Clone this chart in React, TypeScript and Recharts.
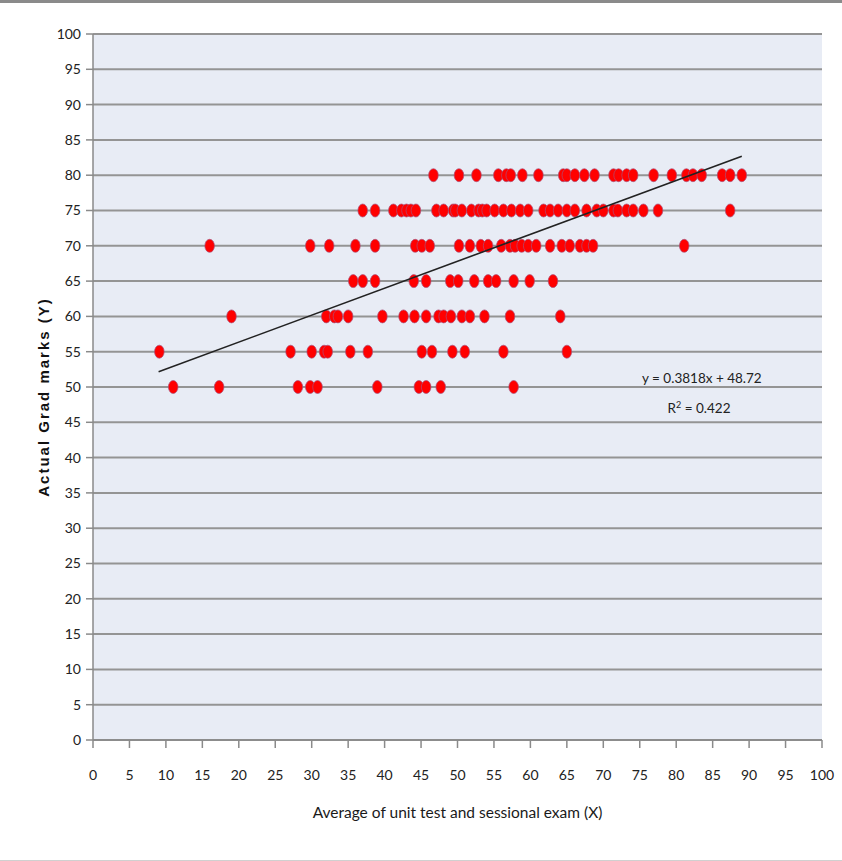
import { ScatterChart, Scatter, XAxis, YAxis, CartesianGrid, Label } from 'recharts';

// Actual grade vs. average of unit test and sessional exam

const TICKS = [0, 5, 10, 15, 20, 25, 30, 35, 40, 45, 50, 55, 60, 65, 70, 75, 80, 85, 90, 95, 100];

const GRADES = [80, 75, 70, 65, 60, 55, 50];

const AVG_80 = [46.7, 50.2, 52.6, 55.6, 56.7, 57.3, 58.9, 61.1, 64.5, 65.0, 66.1, 67.4, 68.8, 71.4, 72.1, 73.2, 74.1, 76.9, 79.4, 81.4, 82.3, 83.5, 86.3, 87.4, 89.0];
const AVG_75 = [37.0, 38.7, 41.2, 42.3, 43.0, 43.6, 44.3, 47.1, 48.1, 49.4, 49.7, 50.6, 51.9, 52.9, 53.4, 54.0, 55.1, 56.3, 57.4, 58.6, 59.7, 61.8, 62.7, 63.8, 65.0, 66.1, 67.7, 69.1, 70.0, 71.4, 72.0, 73.2, 74.1, 75.5, 77.5, 87.4];
const AVG_70 = [16.0, 29.8, 32.4, 36.0, 38.7, 44.2, 45.1, 46.2, 50.2, 51.7, 53.2, 54.2, 56.0, 57.2, 57.9, 58.8, 59.7, 60.8, 62.7, 64.3, 65.4, 66.8, 67.7, 68.6, 81.1];
const AVG_65 = [35.7, 37.0, 38.7, 44.0, 45.7, 49.0, 50.1, 52.3, 54.2, 55.3, 57.7, 59.9, 63.1];
const AVG_60 = [19.0, 32.0, 33.1, 33.6, 35.0, 39.7, 42.6, 44.1, 45.7, 47.4, 48.1, 49.1, 50.6, 51.7, 53.7, 57.2, 64.1];
const AVG_55 = [9.1, 27.1, 30.0, 31.7, 32.2, 35.3, 37.7, 45.1, 46.5, 49.3, 51.0, 56.3, 65.0];
const AVG_50 = [11.0, 17.3, 28.1, 29.8, 30.8, 39.0, 44.7, 45.7, 47.7, 57.7];

// linear trendline shown on the chart
const SLOPE = 0.3818;
const INTERCEPT = 48.72;
const TREND_X = [9, 89];

const AVERAGES = [AVG_80, AVG_75, AVG_70, AVG_65, AVG_60, AVG_55, AVG_50];

const points = GRADES.flatMap((g, i) => AVERAGES[i].map((x) => ({ x, y: g })));
const trend = TREND_X.map((x) => ({ x, y: SLOPE * x + INTERCEPT }));

const FONT = 'Lato, "Open Sans", sans-serif';

const Dot = (props: any) => (
  <ellipse cx={props.cx} cy={props.cy} rx={4.8} ry={6.5} fill="#ff0000" stroke="#a8507a" strokeWidth={0.7} />
);

// rotated y title, a bit below the middle of the axis like the original
const YTitle = (props: any) => {
  const vb = props.viewBox || { x: 33, y: 34, width: 60, height: 706 };
  const cx = vb.x + 10;
  const cy = vb.y + vb.height / 2 + 10;
  return (
    <text
      x={cx}
      y={cy}
      transform={`rotate(-90, ${cx}, ${cy})`}
      textAnchor="middle"
      dominantBaseline="central"
      fill="#111"
      fontSize={15}
      fontWeight="bold"
      letterSpacing={2}
      fontFamily='"Liberation Sans", Arial, sans-serif'
    >
      Actual Grad marks (Y)
    </text>
  );
};

export default function App() {
  return (
    <div
      style={{
        position: 'absolute',
        left: 0,
        top: 0,
        width: 842,
        height: 861,
        background: '#fff',
        boxSizing: 'border-box',
        borderTop: '3px solid #8a8a8a',
        borderBottom: '1px solid #d0d0d0',
        fontFamily: FONT,
      }}
    >
      <div style={{ position: 'absolute', left: 0, top: -3 }}>
        <ScatterChart width={842} height={861} margin={{ top: 34, right: 20, bottom: 31, left: 33 }}>
          <CartesianGrid vertical={false} stroke="#949494" strokeWidth={2} fill="#e8ecf5" />
          <XAxis
            type="number"
            dataKey="x"
            domain={[0, 100]}
            ticks={TICKS}
            interval={0}
            height={90}
            tickSize={8}
            tickMargin={22}
            axisLine={{ stroke: '#8a8a8a', strokeWidth: 1.5 }}
            tickLine={{ stroke: '#8a8a8a', strokeWidth: 1.5 }}
            tick={{ fill: '#222', fontSize: 14, fontFamily: FONT }}
            label={{
              value: 'Average of unit test and sessional exam (X)',
              position: 'insideBottom',
              offset: 12,
              fill: '#1a1a1a',
              fontSize: 15.5,
              fontFamily: FONT,
            }}
          />
          <YAxis
            type="number"
            dataKey="y"
            domain={[0, 100]}
            ticks={TICKS}
            interval={0}
            width={60}
            tickSize={7}
            tickMargin={5}
            axisLine={{ stroke: '#8a8a8a', strokeWidth: 1.5 }}
            tickLine={{ stroke: '#8a8a8a', strokeWidth: 1.5 }}
            tick={{ fill: '#222', fontSize: 14, fontFamily: FONT }}
          >
            <Label content={YTitle} />
          </YAxis>
          <Scatter data={points} shape={Dot} isAnimationActive={false} />
          <Scatter
            data={trend}
            line={{ stroke: '#222', strokeWidth: 1.6 }}
            shape={() => <g />}
            isAnimationActive={false}
          />
        </ScatterChart>
      </div>
      <div
        style={{
          position: 'absolute',
          left: 642,
          top: 360,
          width: 114,
          textAlign: 'center',
          whiteSpace: 'nowrap',
          fontSize: 13.5,
          lineHeight: '30px',
          color: '#222',
        }}
      >
        <div>y = 0.3818x + 48.72</div>
        <div>
          R<sup style={{ fontSize: 9, lineHeight: 0 }}>2</sup> = 0.422
        </div>
      </div>
    </div>
  );
}
